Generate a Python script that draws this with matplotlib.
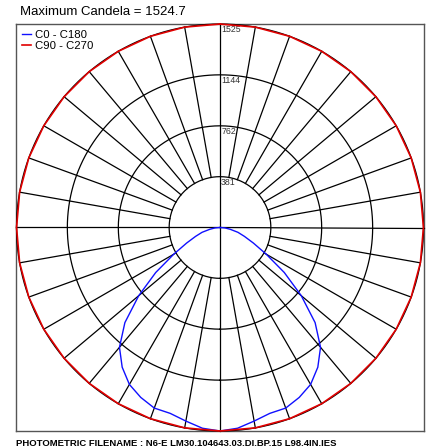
import matplotlib.pyplot as plt
import numpy as np

plt.rcParams['font.family'] = ['Liberation Sans', 'DejaVu Sans']

# vertical angles (deg from nadir) and candela values
gamma_c0 = [0, 5, 10, 15, 20, 25, 30, 35, 40, 45, 50, 55, 60, 65, 70, 75, 80, 85, 90]
cd_c0 = [1525, 1510, 1473, 1442, 1440, 1405, 1358, 1278, 1172, 1008, 795, 588,
         400, 276, 195, 139, 78, 38, 0]
gamma_c90 = list(range(0, 181, 10))
cd_c90 = [1524.7] * len(gamma_c90)

ring_values = [381, 762, 1144, 1525]
ring_labels = ['381', '762', '1144', '1525']
max_cd = 1524.7
filename = 'N6-E LM30.104643.03.DI.BP.15 L98.4IN.IES'

fig = plt.figure(figsize=(4.3, 4.48), dpi=100)
rect = [16 / 430, 17 / 448, 408 / 430, 407 / 448]

# square frame behind the polar plot
frame = fig.add_axes(rect)
frame.set_xticks([])
frame.set_yticks([])
for s in frame.spines.values():
    s.set_color('#555555')
    s.set_linewidth(1.0)

ax = fig.add_axes(rect, projection='polar')
ax.patch.set_alpha(0)
ax.set_theta_zero_location('S')
ax.grid(False)
ax.set_xticks([])
ax.set_yticks([])
ax.spines['polar'].set_visible(False)
ax.set_ylim(0, ring_values[-1])

# rings
th = np.linspace(0, 2 * np.pi, 361)
for r in ring_values:
    ax.plot(th, np.full_like(th, r), color='black', lw=0.9, clip_on=False)

# spokes
for a in range(0, 360, 10):
    t = np.deg2rad(a)
    r0 = 0 if a % 90 == 0 else ring_values[0]
    ax.plot([t, t], [r0, ring_values[-1]], color='black', lw=0.9, clip_on=False)

for r, lab in zip(ring_values, ring_labels):
    ax.annotate(lab, xy=(np.pi, r), xytext=(0.8, -0.8), textcoords='offset points',
                ha='left', va='top', fontsize=6.3, color='#333333')

# C0 - C180 curve (C180 on the left, C0 on the right)
g = np.array(gamma_c0)
c = np.array(cd_c0)
theta_blue = np.deg2rad(np.concatenate([-g[::-1], g[1:]]))
r_blue = np.concatenate([c[::-1], c[1:]])
ax.plot(theta_blue, r_blue, color='#1010ff', lw=1.0, label='C0 - C180', zorder=5)

# C90 - C270 curve
g2 = np.array(gamma_c90)
c2 = np.array(cd_c90)
theta_red = np.deg2rad(np.concatenate([-g2[::-1], g2[1:]]))
r_red = np.concatenate([c2[::-1], c2[1:]])
ax.plot(theta_red, r_red, color='#e00000', lw=1.2, label='C90 - C270', zorder=6, clip_on=False)

ax.legend(loc='upper left', bbox_to_anchor=(0.0, 1.0), frameon=False, fontsize=8.2,
          handlelength=0.8, handletextpad=0.3, borderaxespad=0.3, labelspacing=0.15,
          borderpad=0.2)

fig.text(20 / 430, 1 - 12 / 448, f'Maximum Candela = {max_cd}', fontsize=9.5,
         ha='left', va='center')
fig.text(16 / 430, 1 - 443 / 448, f'PHOTOMETRIC FILENAME : {filename}', fontsize=6.8,
         fontweight='bold', ha='left', va='center')

fig.savefig('out.png', dpi=100)
